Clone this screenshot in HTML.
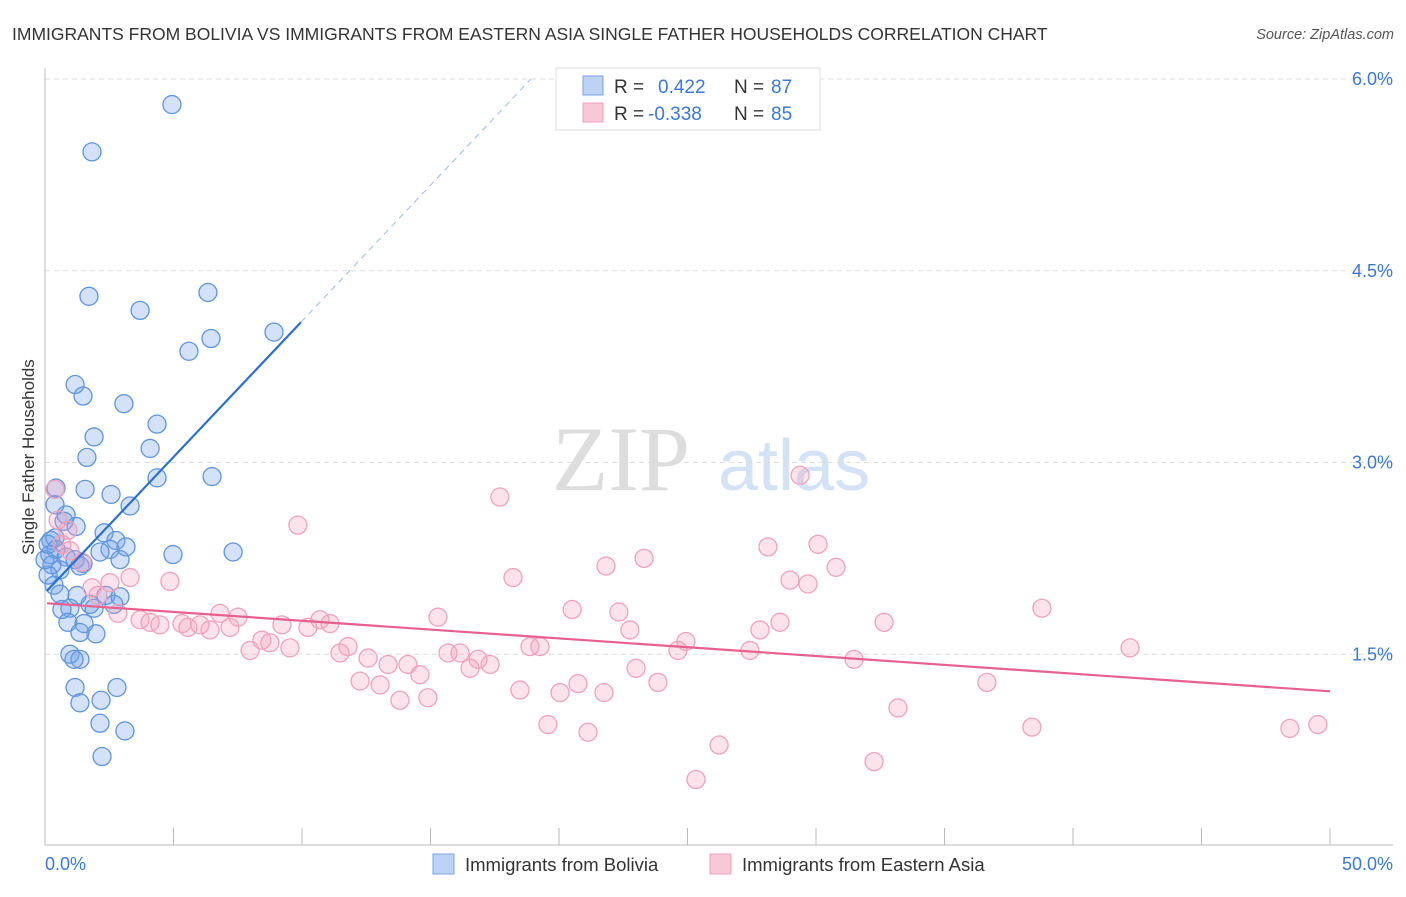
<!DOCTYPE html>
<html><head><meta charset="utf-8"><style>
body{margin:0;background:#fff;font-family:"Liberation Sans",sans-serif;}
</style></head><body>
<svg width="1406" height="892" xmlns="http://www.w3.org/2000/svg" font-family="Liberation Sans, sans-serif">
<text x="12" y="40" font-size="17.5" fill="#333">IMMIGRANTS FROM BOLIVIA VS IMMIGRANTS FROM EASTERN ASIA SINGLE FATHER HOUSEHOLDS CORRELATION CHART</text>
<text x="1394" y="39" font-size="14.5" fill="#555" font-style="italic" text-anchor="end">Source: ZipAtlas.com</text>
<g>
<text x="552" y="490" font-size="92" font-family="Liberation Serif, serif" fill="#ddd">ZIP</text>
<text x="718" y="490" font-size="72" fill="#d4e2f5">atlas</text>
</g>
<g id="grid"></g>
<g id="axes"></g>
<text transform="translate(34,457) rotate(-90)" font-size="17" fill="#333" text-anchor="middle">Single Father Households</text>
<g id="marks"></g>
<g>
<rect x="556" y="68" width="264" height="62" fill="#fff" stroke="#ddd"/>
<rect x="583" y="76" width="20" height="19" fill="#bcd3f5" stroke="#7aa3e0"/>
<rect x="583" y="103" width="20" height="19" fill="#f9c8d6" stroke="#f0a0b8"/>
<text x="614" y="93" font-size="19" fill="#333">R = </text><text x="658" y="93" font-size="19" fill="#3b78d8">0.422</text>
<text x="734" y="93" font-size="19" fill="#333">N = </text><text x="771" y="93" font-size="19" fill="#3b78d8">87</text>
<text x="614" y="120" font-size="19" fill="#333">R = </text><text x="648" y="120" font-size="19" fill="#3b78d8">-0.338</text>
<text x="734" y="120" font-size="19" fill="#333">N = </text><text x="771" y="120" font-size="19" fill="#3b78d8">85</text>
</g>
<g>
<rect x="433" y="854" width="21" height="20" fill="#bcd3f5" stroke="#7aa3e0"/>
<text x="465" y="871" font-size="18.5" fill="#333">Immigrants from Bolivia</text>
<rect x="710" y="854" width="21" height="20" fill="#f9c8d6" stroke="#f0a0b8"/>
<text x="742" y="871" font-size="18.5" fill="#333">Immigrants from Eastern Asia</text>
</g>
</svg>
<script>
const yTicks=[1.5,3.0,4.5,6.0];
const yTickLabels=["1.5%","3.0%","4.5%","6.0%"];
const xTicks=[0,5,10,15,20,25,30,35,40,45,50];
const blueX=[4.94,1.83,1.71,3.70,6.34,8.91,6.46,5.60,1.17,1.48,3.07,4.36,1.91,4.09,1.63,4.36,6.50,1.56,2.57,3.31,0.43,0.39,0.82,0.74,1.21,0.39,0.23,2.30,2.76,3.15,2.53,2.14,4.98,7.32,0.43,0.19,0.82,1.17,1.48,2.92,1.36,0.58,0.27,0.12,0.35,1.25,0.58,2.37,2.92,0.97,0.66,1.75,2.68,1.91,0.89,1.52,1.98,1.36,0.97,1.36,1.13,1.17,2.80,1.36,2.18,2.14,3.11,2.22,0,0.12];
const blueY=[5.80,5.43,4.30,4.19,4.33,4.02,3.97,3.87,3.61,3.52,3.46,3.30,3.20,3.11,3.04,2.88,2.89,2.79,2.75,2.66,2.80,2.67,2.59,2.54,2.50,2.41,2.39,2.45,2.39,2.34,2.32,2.30,2.28,2.30,2.32,2.28,2.26,2.24,2.21,2.24,2.19,2.16,2.20,2.12,2.04,1.96,1.97,1.96,1.95,1.86,1.85,1.89,1.89,1.86,1.75,1.74,1.66,1.67,1.50,1.46,1.46,1.24,1.24,1.12,1.14,0.96,0.90,0.70,2.24,2.36];
const pinkX=[0.39,0.51,0.89,0.66,0.97,1.44,1.83,2.53,3.31,4.86,2.06,2.84,4.09,3.70,4.47,5.33,5.56,6.03,6.42,6.81,7.20,7.51,7.98,8.44,8.75,9.22,9.53,9.84,10.23,10.70,11.09,11.48,11.79,12.26,12.57,13.04,13.35,13.81,14.12,14.59,14.90,15.29,15.68,16.15,16.54,16.85,17.32,17.70,18.21,18.48,18.87,19.26,19.57,20.04,20.51,20.74,21.13,21.75,21.83,22.33,22.76,23.00,23.31,23.85,24.63,24.94,25.33,26.23,27.43,27.82,28.13,28.60,28.99,29.38,29.69,30.08,30.78,31.48,32.65,33.19,32.26,36.65,38.40,38.79,42.22,48.44,49.53];
const pinkY=[2.79,2.55,2.47,2.36,2.31,2.22,2.02,2.06,2.10,2.07,1.96,1.82,1.75,1.77,1.73,1.74,1.71,1.73,1.69,1.82,1.71,1.79,1.53,1.61,1.59,1.73,1.55,2.51,1.71,1.77,1.74,1.51,1.56,1.29,1.47,1.26,1.42,1.14,1.42,1.34,1.16,1.79,1.51,1.51,1.39,1.46,1.42,2.73,2.10,1.22,1.56,1.56,0.95,1.20,1.85,1.27,0.89,1.20,2.19,1.83,1.69,1.39,2.25,1.28,1.53,1.60,0.52,0.79,1.53,1.69,2.34,1.75,2.08,2.90,2.05,2.36,2.18,1.46,1.75,1.08,0.66,1.28,0.93,1.86,1.55,0.92,0.95];
const blueTrend=[1.98,0.2126]; // intercept, slope
const pinkTrend=[1.90,-0.0138];
const NS="http://www.w3.org/2000/svg";
const X=v=>45+v/50*1285, Y=v=>846-v/6*767;
function mk(t,a,p){const e=document.createElementNS(NS,t);for(const k in a)e.setAttribute(k,a[k]);document.getElementById(p).appendChild(e);return e;}
yTicks.forEach((t,i)=>{
 const g=mk('line',{x1:45,x2:1393,y1:Y(t),y2:Y(t),stroke:'#ddd','stroke-dasharray':'5,4'},'grid');
 
 
 const l=mk('text',{x:1393,y:Y(t)+6,'font-size':18,fill:'#3b78d8','text-anchor':'end'},'axes');
 l.textContent=yTickLabels[i];
 
 
});
let ax=mk('line',{x1:45,x2:1393,y1:845,y2:845,stroke:'#bbb'},'axes');


let ay=mk('line',{x1:45,x2:45,y1:68,y2:845,stroke:'#bbb'},'axes');


xTicks.forEach(t=>{const e=mk('line',{x1:X(t),x2:X(t),y1:828,y2:845,stroke:'#bbb'},'axes');
 
 });
[["0.0%",45,'start'],["50.0%",1393,'end']].forEach(a=>{const e=mk('text',{x:a[1],y:870,'font-size':18,fill:'#3b78d8','text-anchor':a[2]},'axes');e.textContent=a[0];
 
 });
blueX.forEach((v,i)=>{const c=mk('circle',{cx:X(v),cy:Y(blueY[i]),r:9,fill:'rgba(110,160,235,0.3)',stroke:'#5f95de','stroke-width':1.3},'marks');
 
 });
pinkX.forEach((v,i)=>{const c=mk('circle',{cx:X(v),cy:Y(pinkY[i]),r:9,fill:'rgba(245,160,190,0.3)',stroke:'#f0a2ba','stroke-width':1.3},'marks');
 
 });
const bEnd=(6.0-blueTrend[0])/blueTrend[1];
let d=mk('line',{x1:X(9.96),y1:Y(blueTrend[0]+blueTrend[1]*9.96),x2:X(bEnd),y2:Y(6.0),stroke:'#9bbbe8','stroke-dasharray':'6,5','stroke-width':1},'marks');


let bl=mk('line',{x1:X(0.08),y1:Y(blueTrend[0]+blueTrend[1]*0.08),x2:X(9.96),y2:Y(blueTrend[0]+blueTrend[1]*9.96),stroke:'#2a6fd6','stroke-width':2.2},'marks');


let pl=mk('line',{x1:X(0.08),y1:Y(pinkTrend[0]+pinkTrend[1]*0.08),x2:X(50),y2:Y(pinkTrend[0]+pinkTrend[1]*50),stroke:'#e8608e','stroke-width':2.2},'marks');


</script>
</body></html>
